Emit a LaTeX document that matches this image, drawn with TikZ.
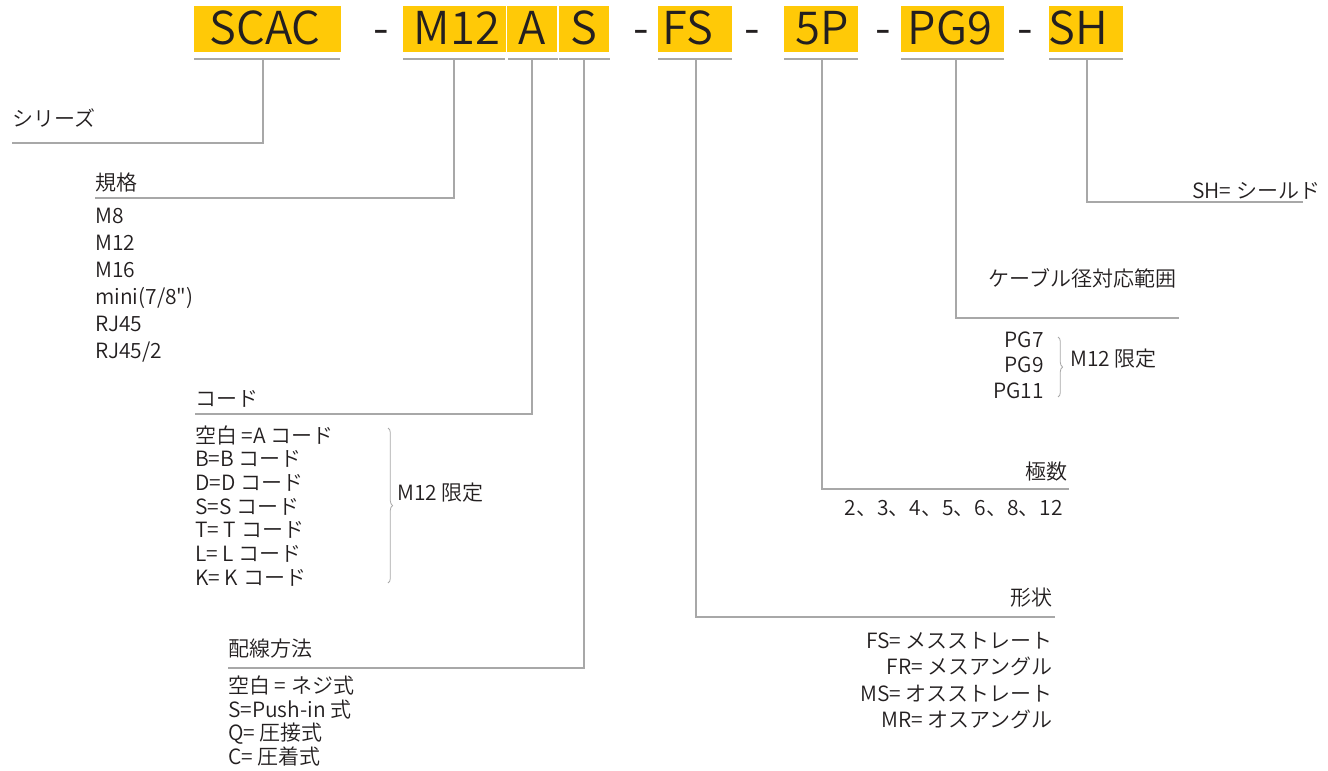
\documentclass[tikz,border=0pt]{standalone}
\usepackage{fontspec}
\setmainfont{Noto Sans CJK JP}[UprightFont={* DemiLight}]
\newfontfamily\rawf{Noto Sans CJK JP}[UprightFont={* DemiLight}]
\usetikzlibrary{decorations.pathreplacing}
\definecolor{yel}{HTML}{FFC907}
\definecolor{lnc}{HTML}{A8A8A8}
\definecolor{txc}{HTML}{231F20}
\tikzset{
  hd/.style={font=\fontsize{34}{40}\selectfont, text=txc, inner sep=0pt, anchor=base},
  bt/.style={font=\fontsize{15.75}{19}\selectfont, text=txc, inner sep=0pt},
  btl/.style={bt, anchor=base west},
  btr/.style={bt, anchor=base east},
  lead/.style={draw=lnc, line width=1pt},
  ubar/.style={draw=lnc, line width=1.2pt},
  brc/.style={draw=lnc, line width=0.6pt, decorate, decoration={brace, amplitude=3.5pt}},
  ybox/.style={fill=yel}
}
\begin{document}
\begin{tikzpicture}[x=0.75pt,y=-0.75pt]
\useasboundingbox (0,0) rectangle (1328,771);

% header boxes
\fill[ybox] (194,6) rectangle (341,52);
\fill[ybox] (403,6) rectangle (506,52);
\fill[ybox] (507,6) rectangle (557,52);
\fill[ybox] (559,6) rectangle (609,52);
\fill[ybox] (658,6) rectangle (732,52);
\fill[ybox] (784,6) rectangle (858,52);
\fill[ybox] (901,6) rectangle (1004,52);
\fill[ybox] (1049,6) rectangle (1123,52);

\node[hd] (hscac) at (265,44) {SCAC};
\node[hd] (hm12) at (457,44) {M12};
\node[hd] (ha) at (532,44) {A};
\node[hd] (hs) at (584,44) {S};
\node[hd] (hfs) at (688,44) {FS};
\node[hd] (h5p) at (822,44) {5P};
\node[hd] (hpg) at (950,44) {PG9};
\node[hd] (hsh) at (1078,44) {SH};
\node[hd] (d1) at (381,44) {-};
\node[hd] (d2) at (641,44) {-};
\node[hd] (d3) at (752,44) {-};
\node[hd] (d4) at (883,44) {-};
\node[hd] (d5) at (1025,44) {-};

% underlines
\draw[ubar] (194,59) -- (340,59);
\draw[ubar] (403,59) -- (505,59);
\draw[ubar] (508,59) -- (558,59);
\draw[ubar] (559,59) -- (610,59);
\draw[ubar] (658,59) -- (732,59);
\draw[ubar] (784,59) -- (858,59);
\draw[ubar] (901,59) -- (1004,59);
\draw[ubar] (1049,59) -- (1123,59);

% tick coordinates
\coordinate (t1) at (263,59);
\coordinate (t2) at (454,59);
\coordinate (t3) at (532,59);
\coordinate (t4) at (584,59);
\coordinate (t5) at (696,59);
\coordinate (t6) at (822,59);
\coordinate (t7) at (956,59);
\coordinate (t8) at (1087,59);

% end coordinates
\coordinate (e1) at (12,143);
\coordinate (e2) at (95,198);
\coordinate (e3) at (195,414);
\coordinate (e4) at (228,668);
\coordinate (e5) at (1055,617);
\coordinate (e6) at (1069,489);
\coordinate (e7) at (1179,318);
\coordinate (e8) at (1303,202);

\draw[lead] (t1) |- (e1);
\draw[lead] (t2) |- (e2);
\draw[lead] (t3) |- (e3);
\draw[lead] (t4) |- (e4);
\draw[lead] (t5) |- (e5);
\draw[lead] (t6) |- (e6);
\draw[lead] (t7) |- (e7);
\draw[lead] (t8) |- (e8);

% series
\node[btl] (series) at (12,126) {シリーズ};

% standard
\node[btl] (kikaku) at (95,190) {規格};
\foreach \t [count=\i] in {M8,M12,M16,mini(7/8{\rawf"}),RJ45,RJ45/2}
  \node[btl] (k\i) at (95,{223+27*(\i-1)}) {\t};

% code
\node[btl] (code) at (195,406) {コード};
\foreach \t [count=\i] in {空白 =A コード,B=B コード,D=D コード,S=S コード,T= T コード,L= L コード,K= K コード}
  \node[btl] (c\i) at (195,{443+23.7*(\i-1)}) {\t};
\draw[brc] (388,428) -- (388,583);
\node[btl] (clim) at (397,500) {M12 限定};

% wiring
\node[btl] (wire) at (228,656) {配線方法};
\foreach \t [count=\i] in {空白 = ネジ式,S=Push-in 式,Q= 圧接式,C= 圧着式}
  \node[btl] (w\i) at (228,{693.5+23.7*(\i-1)}) {\t};

% shape
\node[btr] (shape) at (1053,605) {形状};
\foreach \t [count=\i] in {FS= メスストレート,FR= メスアングル,MS= オスストレート,MR= オスアングル}
  \node[btr] (s\i) at (1053,{648+26.5*(\i-1)}) {\t};

% poles
\node[btr] (poles) at (1068,479) {極数};
\node[btr] (pnum) at (1063,515) {2、3、4、5、6、8、12};

% cable
\node[btl] (cable) at (988,286) {ケーブル径対応範囲};
\node[btr] (pg1) at (1044,347) {PG7};
\node[btr] (pg2) at (1044,372.5) {PG9};
\node[btr] (pg3) at (1044,398) {PG11};
\draw[brc] (1058,337) -- (1058,397);
\node[btl] (plim) at (1070,366) {M12 限定};

% shield
\node[btl] (shield) at (1192,198) {SH= シールド};
\end{tikzpicture}
\end{document}
